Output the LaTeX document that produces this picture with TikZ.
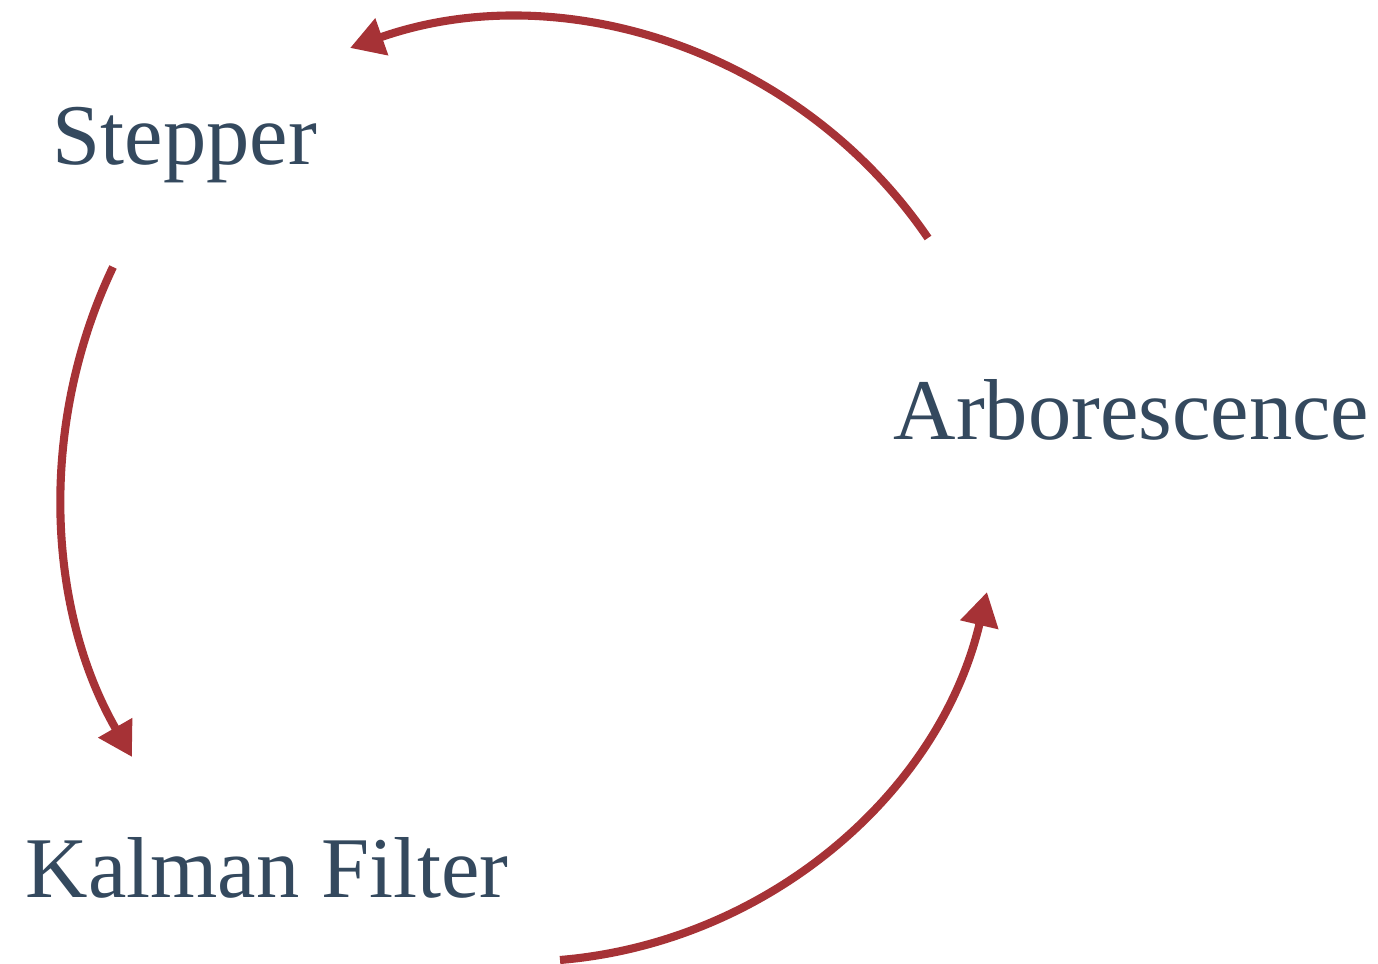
\documentclass[tikz,border=0pt]{standalone}
\IfFileExists{pplr8t.tfm}{%
  \usepackage[T1]{fontenc}%
  \renewcommand{\rmdefault}{ppl}%
  \newcommand{\labelsize}{\fontsize{22.3}{26}\selectfont}%
}{%
  \usepackage{fontspec}%
  \setmainfont{Liberation Serif}%
  \newcommand{\labelsize}{\fontsize{24.6}{28}\selectfont}%
}
\usetikzlibrary{arrows.meta,calc}
\definecolor{labelblue}{RGB}{52,73,94}
\definecolor{linkred}{RGB}{166,50,54}
\begin{document}
\begin{tikzpicture}[x=0.01cm,y=-0.01cm,
  lbl/.style={anchor=base west, inner sep=0pt, text=labelblue,
    font=\labelsize},
  link/.style={draw=linkred, line width=2.3pt,
    -{Triangle[length=9.6pt,width=10.6pt]}, color=linkred}]
\useasboundingbox (0,0) rectangle (1378,964);
% labels
\node[lbl] (step) at (52,165) {Stepper};
\node[lbl] (kal) at (25,898) {Kalman Filter};
\node[lbl] (arb) at (893,440) {Arborescence};
% cycle of bent connectors
\draw[link] ($(arb.base west)+(35,-202)$) to[bend right=37.5, looseness=0.95] ($(step.base west)+(298,-117)$);
\draw[link] ($(step.base west)+(61,102)$) to[bend right=27.7, looseness=0.9] ($(kal.base west)+(107,-141)$);
\draw[link] ($(kal.base west)+(535,62)$) to[bend right=36, looseness=0.94] ($(arb.base west)+(94,152)$);
\end{tikzpicture}
\end{document}
